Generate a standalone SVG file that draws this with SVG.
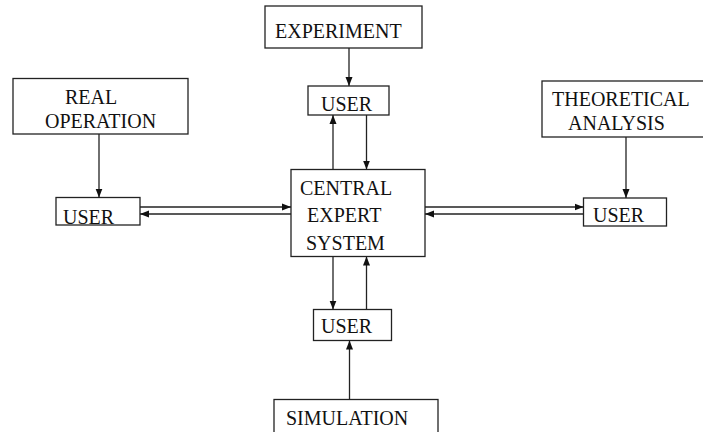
<svg xmlns="http://www.w3.org/2000/svg" width="703" height="432" viewBox="0 0 703 432">
<defs>
<style>
.box{fill:#fff;stroke:#222;stroke-width:1.3}
.t{font-family:"Liberation Serif","Times New Roman",serif;font-size:20px;fill:#111}
.c{stroke:#222;stroke-width:1.3;fill:none;marker-end:url(#ah)}
</style>
<marker id="ah" markerUnits="userSpaceOnUse" markerWidth="10" markerHeight="8" refX="9" refY="4" orient="auto">
<path d="M0,0.5 L9,4 L0,7.5 z" fill="#111"/>
</marker>
</defs>
<rect width="703" height="432" fill="#fff"/>
<g id="experiment"><rect class="box" x="265" y="6" width="157" height="42"/><text class="t" x="275" y="38">EXPERIMENT</text></g>
<g id="user-top"><rect class="box" x="308" y="86" width="81" height="29"/><text class="t" x="321" y="111">USER</text></g>
<g id="real-operation"><rect class="box" x="13" y="78.5" width="175" height="55.5"/><text class="t" x="65" y="104">REAL</text><text class="t" x="45" y="128">OPERATION</text></g>
<g id="user-left"><rect class="box" x="56" y="197.5" width="84" height="27.5"/><text class="t" x="63" y="224">USER</text></g>
<g id="theoretical-analysis"><rect class="box" x="542" y="81" width="170" height="56"/><text class="t" x="552" y="106">THEORETICAL</text><text class="t" x="568" y="130">ANALYSIS</text></g>
<g id="user-right"><rect class="box" x="583.5" y="198" width="83" height="28"/><text class="t" x="593" y="222">USER</text></g>
<g id="central"><rect class="box" x="291" y="169.5" width="134" height="87"/><text class="t" x="300" y="195">CENTRAL</text><text class="t" x="307" y="222">EXPERT</text><text class="t" x="306" y="250">SYSTEM</text></g>
<g id="user-bottom"><rect class="box" x="313.5" y="309.5" width="78" height="31"/><text class="t" x="321" y="333">USER</text></g>
<g id="simulation"><rect class="box" x="274" y="399.5" width="164" height="40"/><text class="t" x="286" y="425">SIMULATION</text></g>
<g id="connectors">
<path class="c" d="M349,48 V86"/>
<path class="c" d="M99,134 V197.5"/>
<path class="c" d="M626,137 V198"/>
<path class="c" d="M349.5,399.5 V340.5"/>
<path class="c" d="M333,169.5 V115"/>
<path class="c" d="M366.5,115 V169.5"/>
<path class="c" d="M333,256.5 V309.5"/>
<path class="c" d="M366.5,309.5 V256.5"/>
<path class="c" d="M140,207 H291"/>
<path class="c" d="M291,214 H140"/>
<path class="c" d="M425,207 H583.5"/>
<path class="c" d="M583.5,214 H425"/>
</g>
</svg>
